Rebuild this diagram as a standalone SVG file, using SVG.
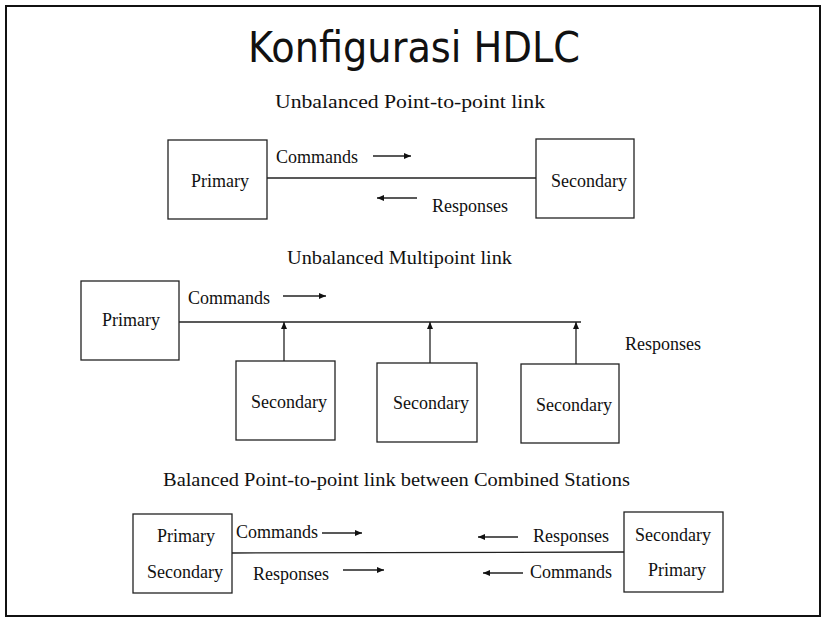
<svg xmlns="http://www.w3.org/2000/svg" width="825" height="622" viewBox="0 0 825 622">
<style>
.box{fill:#fff;stroke:#222;stroke-width:1.3}
.ln{stroke:#222;stroke-width:1.3;fill:none}
.ar{stroke:#222;stroke-width:1.3;fill:none;marker-end:url(#ah)}
.t{font-family:"Liberation Serif","Times New Roman",serif;font-size:18px;fill:#111}
.h{font-family:"Liberation Serif","Times New Roman",serif;font-size:19px;fill:#111}
.title{font-family:"DejaVu Sans","Noto Sans",sans-serif;font-size:42px;fill:#111}
</style>
<defs>
<marker id="ah" markerUnits="userSpaceOnUse" markerWidth="7" markerHeight="6" refX="7" refY="3" orient="auto">
<path d="M0,0 L7,3 L0,6 z" fill="#111"/>
</marker>
</defs>
<rect x="6" y="6" width="814" height="610" fill="#fff" stroke="#111" stroke-width="2"/>
<text class="title" x="248" y="62" textLength="332" lengthAdjust="spacingAndGlyphs">Konfigurasi HDLC</text>

<text class="h" x="275" y="108" textLength="270" lengthAdjust="spacingAndGlyphs">Unbalanced Point-to-point link</text>
<text class="h" x="287" y="264" textLength="225" lengthAdjust="spacingAndGlyphs">Unbalanced Multipoint link</text>
<text class="h" x="163" y="486" textLength="467" lengthAdjust="spacingAndGlyphs">Balanced Point-to-point link between Combined Stations</text>

<g id="connectors">
<line class="ln" x1="267" y1="178" x2="536" y2="178"/>
<line class="ar" x1="373" y1="156" x2="411" y2="156"/>
<line class="ar" x1="417" y1="198" x2="377" y2="198"/>

<line class="ln" x1="179" y1="322" x2="581" y2="322"/>
<line class="ar" x1="283" y1="296" x2="326" y2="296"/>
<line class="ar" x1="284" y1="361" x2="284" y2="322"/>
<line class="ar" x1="430" y1="363" x2="430" y2="322"/>
<line class="ar" x1="576" y1="364" x2="576" y2="322"/>

<line class="ln" x1="232" y1="553" x2="624" y2="552"/>
<line class="ar" x1="322" y1="533" x2="362" y2="533"/>
<line class="ar" x1="343" y1="570" x2="384" y2="570"/>
<line class="ar" x1="518" y1="537" x2="478" y2="537"/>
<line class="ar" x1="523" y1="573" x2="483" y2="573"/>
</g>
<g id="labels">
<text class="t" x="276" y="163">Commands</text>
<text class="t" x="432" y="212">Responses</text>
<text class="t" x="188" y="304">Commands</text>
<text class="t" x="625" y="350">Responses</text>
<text class="t" x="236" y="538">Commands</text>
<text class="t" x="253" y="580">Responses</text>
<text class="t" x="533" y="542">Responses</text>
<text class="t" x="530" y="578">Commands</text>
</g>

<g id="n1-primary">
<rect class="box" x="168" y="140" width="99" height="79"/>
<text class="t" x="191" y="187">Primary</text>
</g>
<g id="n1-secondary">
<rect class="box" x="536" y="139" width="98" height="79"/>
<text class="t" x="551" y="187">Secondary</text>
</g>

<g id="n2-primary">
<rect class="box" x="81" y="281" width="98" height="79"/>
<text class="t" x="102" y="326">Primary</text>
</g>
<g id="n2-secondary1">
<rect class="box" x="236" y="361" width="99" height="79"/>
<text class="t" x="251" y="408">Secondary</text>
</g>
<g id="n2-secondary2">
<rect class="box" x="377" y="363" width="100" height="79"/>
<text class="t" x="393" y="409">Secondary</text>
</g>
<g id="n2-secondary3">
<rect class="box" x="521" y="364" width="98" height="79"/>
<text class="t" x="536" y="411">Secondary</text>
</g>

<g id="n3-left">
<rect class="box" x="133" y="514" width="99" height="79"/>
<text class="t" x="157" y="542">Primary</text>
<text class="t" x="147" y="578">Secondary</text>
</g>
<g id="n3-right">
<rect class="box" x="624" y="512" width="99" height="80"/>
<text class="t" x="635" y="541">Secondary</text>
<text class="t" x="648" y="576">Primary</text>
</g>
</svg>
